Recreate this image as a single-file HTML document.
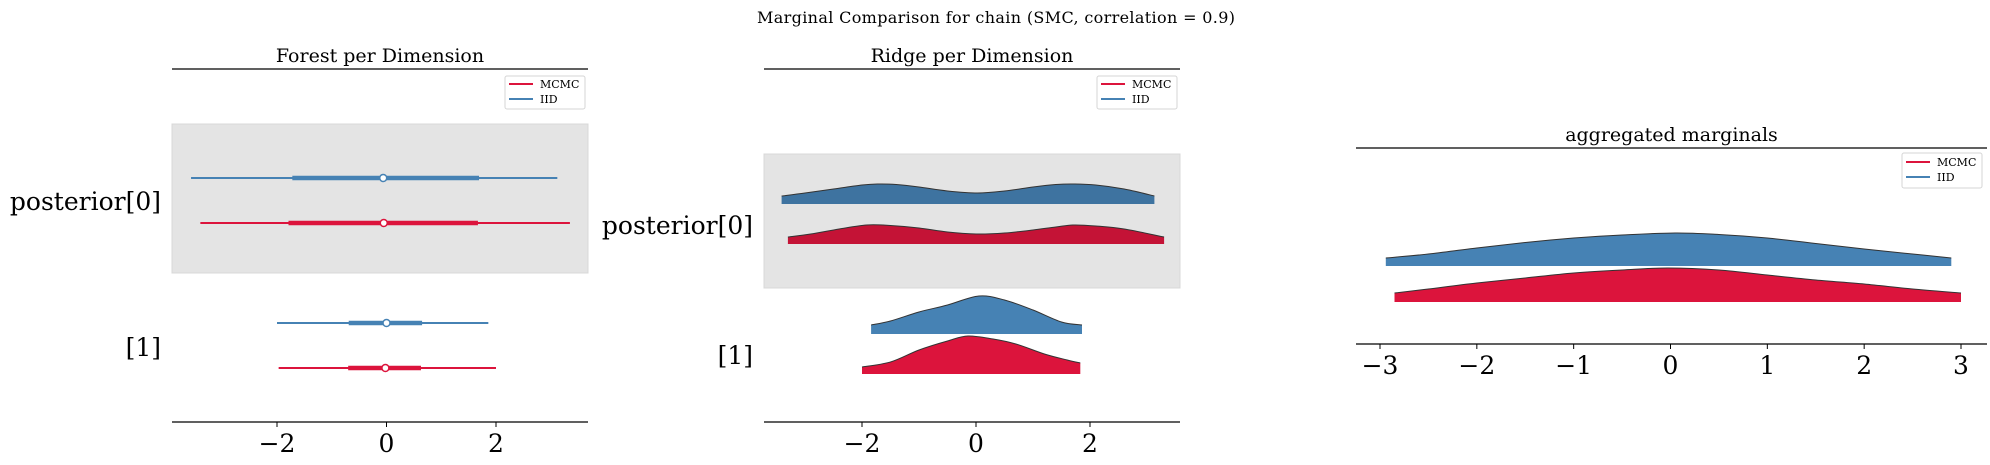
<!DOCTYPE html>
<html><head><meta charset="utf-8"><style>
html,body{margin:0;padding:0;background:#fff;}
svg{display:block;font-family:"DejaVu Serif","Liberation Serif",serif;}
</style></head><body>
<svg id="fig" width="1990" height="465" viewBox="0 0 1990 465" xmlns="http://www.w3.org/2000/svg">
<text x="996" y="23" font-size="16" text-anchor="middle" textLength="478">Marginal Comparison for chain (SMC, correlation = 0.9)</text>
</svg>
<script>
// ---- Forest data ----
const forestRows = ["posterior[0]", "[1]"];
const forestIIDThin = [[-3.57, 3.12], [-2.0, 1.86]];
const forestIIDThick = [[-1.72, 1.69], [-0.69, 0.65]];
const forestIIDMedian = [-0.06, 0.0];
const forestMCMCThin = [[-3.4, 3.35], [-1.97, 2.0]];
const forestMCMCThick = [[-1.79, 1.67], [-0.7, 0.63]];
const forestMCMCMedian = [-0.05, -0.02];
const forestTicks = [-2, 0, 2];
// ---- Ridge data ----
const ridgeIID0X = [-3.41, -3.0, -2.5, -2.0, -1.73, -1.4, -1.0, -0.5, 0.03, 0.5, 1.0, 1.4, 1.73, 2.1, 2.6, 3.13];
const ridgeIID0D = [0.08, 0.11, 0.15, 0.19, 0.20, 0.195, 0.17, 0.13, 0.11, 0.13, 0.17, 0.195, 0.20, 0.19, 0.15, 0.08];
const ridgeMCMC0X = [-3.3, -2.9, -2.4, -1.92, -1.5, -1.0, -0.5, 0.0, 0.5, 1.0, 1.4, 1.7, 2.1, 2.6, 3.3];
const ridgeMCMC0D = [0.07, 0.10, 0.15, 0.19, 0.185, 0.16, 0.12, 0.10, 0.11, 0.14, 0.17, 0.19, 0.18, 0.15, 0.07];
const ridgeIID1X = [-1.84, -1.5, -1.0, -0.5, 0.05, 0.5, 1.0, 1.5, 1.86];
const ridgeIID1D = [0.09, 0.13, 0.22, 0.29, 0.38, 0.34, 0.24, 0.12, 0.09];
const ridgeMCMC1X = [-2.0, -1.5, -1.0, -0.5, -0.14, 0.3, 0.7, 1.2, 1.6, 1.83];
const ridgeMCMC1D = [0.07, 0.12, 0.24, 0.33, 0.38, 0.35, 0.30, 0.20, 0.14, 0.11];
const ridgeTicks = [-2, 0, 2];
// ---- Aggregated ----
const aggIIDX = [-2.94, -2.5, -2.0, -1.5, -1.0, -0.5, 0.05, 0.5, 1.0, 1.5, 2.0, 2.5, 2.9];
const aggIIDD = [0.08, 0.12, 0.18, 0.235, 0.28, 0.31, 0.33, 0.315, 0.28, 0.225, 0.17, 0.12, 0.08];
const aggMCMCX = [-2.85, -2.5, -2.0, -1.5, -1.0, -0.5, -0.03, 0.5, 1.0, 1.5, 2.0, 2.5, 3.0];
const aggMCMCD = [0.09, 0.13, 0.19, 0.24, 0.29, 0.32, 0.34, 0.32, 0.27, 0.22, 0.18, 0.13, 0.09];
const aggTicks = [-3, -2, -1, 0, 1, 2, 3];

const RED = "#dc143c", BLUE = "#4682b4";
const NS = "http://www.w3.org/2000/svg";
const svg = document.getElementById("fig");
function el(tag, attrs, parent) {
  const e = document.createElementNS(NS, tag);
  for (const k in attrs) e.setAttribute(k, attrs[k]);
  (parent || svg).appendChild(e);
  return e;
}
function txt(x, y, s, size, anchor, parent) {
  const t = el("text", {x: x, y: y, "font-size": size, "text-anchor": anchor || "middle", fill: "#000"}, parent);
  t.textContent = s;
  return t;
}
function lin(x0, x1, v0, v1) { return v => x0 + (v - v0) * (x1 - x0) / (v1 - v0); }
function smooth(pts) {
  let d = "M" + pts[0][0].toFixed(1) + "," + pts[0][1].toFixed(1);
  for (let i = 0; i < pts.length - 1; i++) {
    const p0 = pts[Math.max(0, i - 1)], p1 = pts[i], p2 = pts[i + 1], p3 = pts[Math.min(pts.length - 1, i + 2)];
    const c1x = p1[0] + (p2[0] - p0[0]) / 6, c1y = p1[1] + (p2[1] - p0[1]) / 6;
    const c2x = p2[0] - (p3[0] - p1[0]) / 6, c2y = p2[1] - (p3[1] - p1[1]) / 6;
    d += " C" + c1x.toFixed(1) + "," + c1y.toFixed(1) + " " + c2x.toFixed(1) + "," + c2y.toFixed(1) + " " + p2[0].toFixed(1) + "," + p2[1].toFixed(1);
  }
  return d;
}

function axesFrame(g, left, right, top, bottom, title, titleY, ticks, sx, tickLabelY) {
  const ts = el("line", {x1: left, x2: right, y1: top, y2: top, stroke: "#000", "stroke-width": 1.3}, g);
  
  
  const bs = el("line", {x1: left, x2: right, y1: bottom, y2: bottom, stroke: "#000", "stroke-width": 1.3}, g);
  
  
  const tt = txt((left + right) / 2, titleY, title, 19, "middle", g);
  
  
  ticks.forEach(v => {
    const x = sx(v);
    const tk = el("line", {x1: x, x2: x, y1: bottom, y2: bottom + 5, stroke: "#000", "stroke-width": 1}, g);
    
    
    const lb = txt(x, tickLabelY, v < 0 ? "\u2212" + Math.abs(v) : String(v), 25, "middle", g);
    
    
  });
}
function legend(g, x0, y0, w, h, ly1, ly2) {
  const lg = el("g", {}, g);
  
  
  el("rect", {x: x0, y: y0, width: w, height: h, rx: 2, fill: "#fff", stroke: "#d5d5d5", "stroke-width": 1}, lg);
  [[ly1, RED, "MCMC"], [ly2, BLUE, "IID"]].forEach(([y, c, s]) => {
    const e = el("g", {}, lg);
    
    
    el("line", {x1: x0 + 4, x2: x0 + 28, y1: y, y2: y, stroke: c, "stroke-width": 2}, e);
    txt(x0 + 35, y + 4, s, 11, "start", e);
  });
}
function ridge(g, xs, ds, sx, base, scale, color, name) {
  const top = xs.map((x, i) => [sx(x), base - ds[i] * scale]);
  const curve = smooth(top);
  const x0 = sx(xs[0]), x1 = sx(xs[xs.length - 1]);
  const d = "M" + x0.toFixed(1) + "," + base + " L" + curve.slice(1) + " L" + x1.toFixed(1) + "," + base + " Z";
  const p = el("path", {d: d, fill: color, stroke: "none"}, g);
  
  
  el("path", {d: curve, fill: "none", stroke: "#333", "stroke-width": 1}, g);
}

// ---- Panel 1: forest ----
(function () {
  const g = el("g", {});
  
  
  const sx = lin(277, 496, -2, 2);
  const band = el("rect", {x: 172, y: 124, width: 416, height: 149, fill: "#e4e4e4", stroke: "#d8d8d8"}, g);
  
  
  axesFrame(g, 172, 588, 69, 422, "Forest per Dimension", 62, forestTicks, sx, 452);
  const rowIIDY = [178, 323], rowMCMCY = [223, 368], labelY = [210, 356];
  forestRows.forEach((r, i) => {
    const lb = txt(161, labelY[i], r, 25, "end", g);
    
    
    [[forestIIDThin, forestIIDThick, forestIIDMedian, rowIIDY, BLUE, "iid"],
     [forestMCMCThin, forestMCMCThick, forestMCMCMedian, rowMCMCY, RED, "mcmc"]].forEach(([th, tk, md, ys, c, n]) => {
      const y = ys[i];
      const a = el("line", {x1: sx(th[i][0]), x2: sx(th[i][1]), y1: y, y2: y, stroke: c, "stroke-width": 2}, g);
      
      
      const b = el("line", {x1: sx(tk[i][0]), x2: sx(tk[i][1]), y1: y, y2: y, stroke: c, "stroke-width": 4.5}, g);
      
      
      const m = el("circle", {cx: sx(md[i]), cy: y, r: 3.5, fill: "#fff", stroke: c, "stroke-width": 1.5}, g);
      
      
    });
  });
  legend(g, 505, 76, 80, 33, 84, 99);
})();

// ---- Panel 2: ridge ----
(function () {
  const g = el("g", {});
  
  
  const sx = lin(862, 1090, -2, 2);
  const band = el("rect", {x: 764, y: 154, width: 416, height: 134, fill: "#e4e4e4", stroke: "#d8d8d8"}, g);
  
  
  axesFrame(g, 764, 1180, 69, 422, "Ridge per Dimension", 62, ridgeTicks, sx, 452);
  const l0 = txt(753, 234, "posterior[0]", 25, "end", g);
  
  
  const l1 = txt(753, 364, "[1]", 25, "end", g);
  
  
  ridge(g, ridgeIID0X, ridgeIID0D, sx, 204, 100, "#3e73a0", "ridge-iid-0");
  ridge(g, ridgeMCMC0X, ridgeMCMC0D, sx, 244, 100, "#c41336", "ridge-mcmc-0");
  ridge(g, ridgeIID1X, ridgeIID1D, sx, 334, 100, BLUE, "ridge-iid-1");
  ridge(g, ridgeMCMC1X, ridgeMCMC1D, sx, 374, 100, RED, "ridge-mcmc-1");
  legend(g, 1097, 76, 80, 33, 84, 99);
})();

// ---- Panel 3: aggregated ----
(function () {
  const g = el("g", {});
  
  
  const sx = lin(1380, 1961, -3, 3);
  axesFrame(g, 1356, 1987, 148, 344, "aggregated marginals", 141, aggTicks, sx, 374);
  ridge(g, aggIIDX, aggIIDD, sx, 266, 100, BLUE, "density-iid");
  ridge(g, aggMCMCX, aggMCMCD, sx, 302, 100, RED, "density-mcmc");
  legend(g, 1902, 153, 80, 35, 162, 177);
})();
</script>
</body></html>
